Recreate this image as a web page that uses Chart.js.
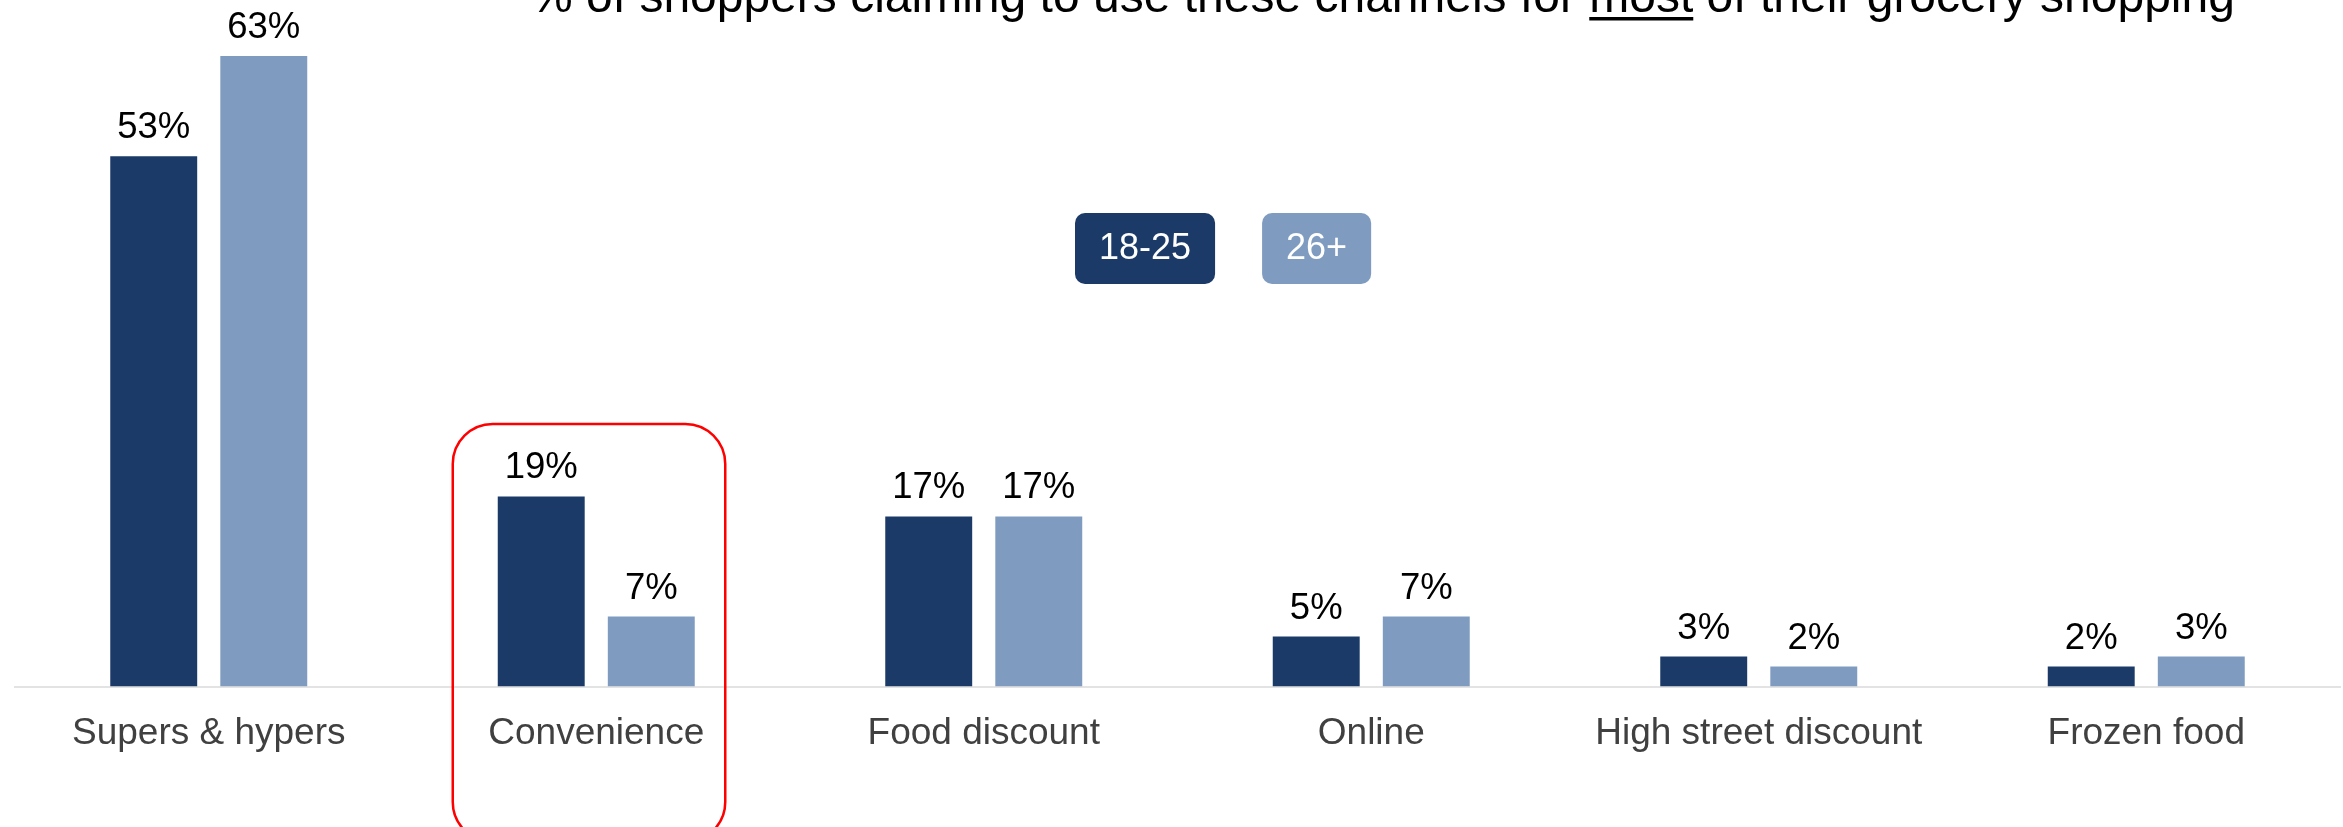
<!DOCTYPE html>
<html>
<head>
<meta charset="utf-8">
<title>Grocery channels by age</title>
<script src="https://cdn.jsdelivr.net/npm/chart.js@4.4.1/dist/chart.umd.min.js"></script>
<style>
    body { margin: 0; background: #ffffff; }
</style>
</head>
<body>
<canvas id="channelChart" width="2343" height="827"></canvas>
<script>
// Data
const categories = ["Supers & hypers", "Convenience", "Food discount", "Online", "High street discount", "Frozen food"];
const age18to25 = [53, 19, 17, 5, 3, 2];
const age26plus = [63, 7, 17, 7, 2, 3];
const seriesNames = ["18-25", "26+"];
const seriesColors = ["#1b3a68", "#7f9cc0"];
const titleText = "% of shoppers claiming to use these channels for most of their grocery shopping";
const titleUnderlined = "most";
const highlightIndex = 1; // "Convenience" gets the red box

const FONT = "'Liberation Sans', Arial, sans-serif";

// Title sits partly above the top edge, like in the picture
const titlePlugin = {
    id: "titleText",
    afterDraw(chart) {
        let ctx = chart.ctx;
        ctx.save();
        ctx.font = "48px " + FONT;
        ctx.fillStyle = "#000000";
        ctx.textAlign = "left";
        ctx.textBaseline = "alphabetic";
        let x = 530, y = 12;
        ctx.fillText(titleText, x, y);
        // underline the word "most"
        let pos = titleText.indexOf(titleUnderlined);
        let before = ctx.measureText(titleText.slice(0, pos)).width;
        let w = ctx.measureText(titleUnderlined).width;
        ctx.fillRect(x + before, y + 5, w, 3.5);
        ctx.restore();
    }
};

// Percent labels above each bar
const valueLabelPlugin = {
    id: "valueLabels",
    afterDatasetsDraw(chart) {
        let ctx = chart.ctx;
        ctx.save();
        ctx.font = "36.5px " + FONT;
        ctx.fillStyle = "#000000";
        ctx.textAlign = "center";
        ctx.textBaseline = "alphabetic";
        chart.data.datasets.forEach(function (ds, i) {
            chart.getDatasetMeta(i).data.forEach(function (bar, j) {
                ctx.fillText(ds.data[j] + "%", bar.x, bar.y - 18);
            });
        });
        ctx.restore();
    }
};

function roundedPath(ctx, x, y, w, h, r) {
    ctx.beginPath();
    ctx.moveTo(x + r, y);
    ctx.arcTo(x + w, y, x + w, y + h, r);
    ctx.arcTo(x + w, y + h, x, y + h, r);
    ctx.arcTo(x, y + h, x, y, r);
    ctx.arcTo(x, y, x + w, y, r);
    ctx.closePath();
}

// Legend drawn as filled rounded boxes with white text
const boxLegendPlugin = {
    id: "boxLegend",
    afterDraw(chart) {
        let ctx = chart.ctx;
        ctx.save();
        ctx.font = "36px " + FONT;
        ctx.textAlign = "center";
        ctx.textBaseline = "middle";
        let x = 1075, y = 213, h = 71, padX = 24, gap = 47;
        chart.data.datasets.forEach(function (ds) {
            let w = ctx.measureText(ds.label).width + padX * 2;
            ctx.fillStyle = ds.backgroundColor;
            roundedPath(ctx, x, y, w, h, 10);
            ctx.fill();
            ctx.fillStyle = "#ffffff";
            ctx.fillText(ds.label, x + w / 2, y + h / 2 + 1);
            x += w + gap;
        });
        ctx.restore();
    }
};

// Red rounded frame around the highlighted category
const highlightPlugin = {
    id: "highlightBox",
    afterDraw(chart) {
        let ctx = chart.ctx;
        let cx = chart.scales.x.getPixelForValue(highlightIndex);
        ctx.save();
        ctx.strokeStyle = "#ff0000";
        ctx.lineWidth = 2.5;
        roundedPath(ctx, cx - 143.5, 424, 272.5, 418, 40);
        ctx.stroke();
        ctx.restore();
    }
};

document.addEventListener("DOMContentLoaded", function () {
    Chart.defaults.font.family = FONT;

    let ctx = document.getElementById("channelChart").getContext("2d");
    window.channelChart = new Chart(ctx, {
        type: "bar",
        data: {
            labels: categories,
            datasets: [
                { label: seriesNames[0], data: age18to25, backgroundColor: seriesColors[0] },
                { label: seriesNames[1], data: age26plus, backgroundColor: seriesColors[1] }
            ]
        },
        options: {
            responsive: false,
            animation: false,
            categoryPercentage: 0.568,
            barPercentage: 0.79,
            layout: { padding: { left: 15, right: 3, top: 0, bottom: 46 } },
            plugins: {
                legend: { display: false },
                tooltip: { enabled: false }
            },
            scales: {
                x: {
                    grid: { display: false, drawTicks: false },
                    border: { display: true, color: "#e3e3e3", width: 2 },
                    ticks: {
                        color: "#404040",
                        font: { size: 37 },
                        padding: 25,
                        maxRotation: 0,
                        autoSkip: false
                    }
                },
                y: { display: false, min: 0, max: 68.6 }
            }
        },
        plugins: [valueLabelPlugin, titlePlugin, boxLegendPlugin, highlightPlugin]
    });
});
</script>
</body>
</html>
